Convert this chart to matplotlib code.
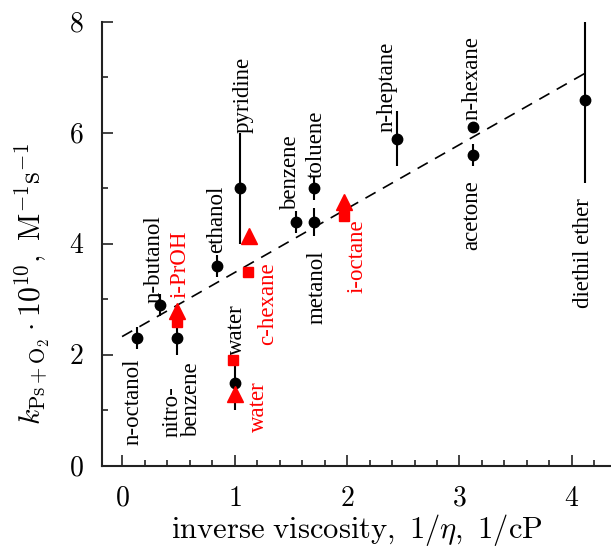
import matplotlib

matplotlib.use("Agg")
import matplotlib.pyplot as plt
from matplotlib.ticker import MultipleLocator

plt.rcParams["font.family"] = ["Liberation Serif", "DejaVu Serif"]
plt.rcParams["mathtext.fontset"] = "cm"

# black points: measured rate constants with error bars
solvents = ["n-octanol", "n-butanol", "nitrobenzene", "ethanol", "water", "pyridine",
            "benzene", "toluene", "metanol", "n-heptane", "n-hexane", "acetone", "diethil ether"]
inv_visc = [0.13, 0.34, 0.49, 0.84, 1.00, 1.05, 1.55, 1.71, 1.71, 2.44, 3.12, 3.12, 4.12]
k_rate = [2.3, 2.9, 2.3, 3.6, 1.5, 5.0, 4.4, 5.0, 4.4, 5.9, 6.1, 5.6, 6.6]
k_err = [0.2, 0.2, 0.3, 0.2, 0.5, 1.0, 0.2, 0.2, 0.25, 0.5, 0.1, 0.2, 1.5]

# red points (i-PrOH, water, c-hexane, i-octane)
sq_x = [0.49, 0.99, 1.12, 1.97]
sq_y = [2.6, 1.9, 3.5, 4.5]
tri_x = [0.49, 1.00, 1.13, 1.97]
tri_y = [2.8, 1.3, 4.15, 4.75]

# dashed linear fit
fit_x = [0.0, 4.17]
fit_intercept = 2.33
fit_slope = 1.153

# annotations: text, x, y, vertical anchor, colour
labels = [
    ("n-octanol", 0.10, 1.15, "center", "black"),
    ("nitro-\nbenzene", 0.53, 0.52, "bottom", "black"),
    ("n-butanol", 0.28, 2.94, "bottom", "black"),
    ("i-PrOH", 0.52, 3.03, "bottom", "red"),
    ("ethanol", 0.84, 3.84, "bottom", "black"),
    ("pyridine", 1.08, 6.0, "bottom", "black"),
    ("water", 1.02, 2.0, "bottom", "black"),
    ("water", 1.21, 1.06, "center", "red"),
    ("c-hexane", 1.29, 2.92, "center", "red"),
    ("benzene", 1.50, 4.61, "bottom", "black"),
    ("toluene", 1.73, 5.18, "bottom", "black"),
    ("metanol", 1.73, 3.89, "top", "black"),
    ("i-octane", 2.09, 3.77, "center", "red"),
    ("n-heptane", 2.36, 6.02, "bottom", "black"),
    ("n-hexane", 3.11, 6.23, "bottom", "black"),
    ("acetone", 3.11, 5.15, "top", "black"),
    ("diethil ether", 4.10, 4.83, "top", "black"),
]

fig = plt.figure(figsize=(6.11, 5.5), dpi=100)
ax = fig.add_axes([0.167, 0.153, 0.833, 0.807])

fit_y = [fit_intercept + fit_slope * x for x in fit_x]
ax.plot(fit_x, fit_y, color="black", lw=1.2, ls=(0, (7, 5)))

ax.errorbar(inv_visc, k_rate, yerr=k_err, fmt="o", color="black", ms=7.5,
            elinewidth=1.5, capsize=0, zorder=3)
ax.plot(sq_x, sq_y, "s", color="red", ms=7.5, zorder=4)
ax.plot(tri_x, tri_y, "^", color="red", ms=11, zorder=4)

for text, x, y, va, col in labels:
    ax.text(x, y, text, rotation=90, ha="center", va=va, color=col,
            fontsize=16.5, multialignment="left", linespacing=0.95)

ax.set_xlim(-0.178, 4.347)
ax.set_ylim(0, 8)
ax.xaxis.set_major_locator(MultipleLocator(1))
ax.xaxis.set_minor_locator(MultipleLocator(0.2))
ax.yaxis.set_major_locator(MultipleLocator(2))
ax.yaxis.set_minor_locator(MultipleLocator(1))
ax.xaxis.set_major_formatter(lambda v, p: f"${v:.0f}$")
ax.yaxis.set_major_formatter(lambda v, p: f"${v:.0f}$")

for side in ["top", "right"]:
    ax.spines[side].set_visible(False)
for side in ["left", "bottom"]:
    ax.spines[side].set_linewidth(1.5)
    ax.spines[side].set_color("#222222")

ax.tick_params(which="both", direction="in", labelsize=20, color="#222222", width=1.2)
ax.tick_params(which="major", length=8)
ax.tick_params(which="minor", length=4)
ax.tick_params(axis="x", which="major", pad=15)
ax.tick_params(axis="y", which="major", pad=13)

ax.set_xlabel(r"$\mathrm{inverse\ viscosity,\ 1/}\eta\mathrm{,\ 1/cP}$", fontsize=22, labelpad=0)
ax.set_ylabel(r"$k_{\mathrm{Ps+O_2}}\cdot10^{10}\mathrm{,\ M^{-1}s^{-1}}$", fontsize=21.5)
ax.yaxis.set_label_coords(-0.098, 0.41)

fig.savefig("out.png", dpi=100)
